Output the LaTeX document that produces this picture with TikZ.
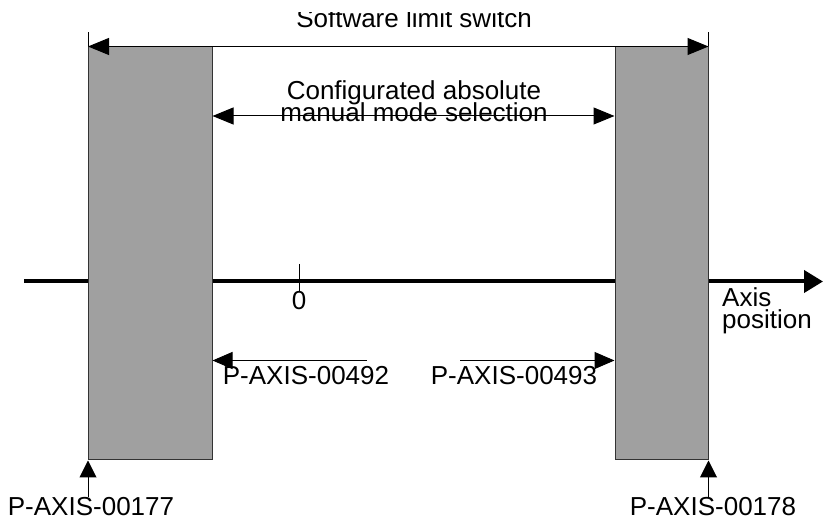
\documentclass[tikz,border=0pt]{standalone}
\usepackage{fontspec}
\setmainfont{Liberation Sans}
\usepackage{tikz}
\usetikzlibrary{arrows.meta, calc}
\definecolor{BarGrey}{HTML}{A0A0A0}
\definecolor{BarEdge}{HTML}{333333}
\newcommand{\labelfont}{\fontsize{26}{22}\selectfont\lineskiplimit=-40pt\relax}

\begin{document}
\begin{tikzpicture}[x=1pt, y=1pt,
  every node/.style={font=\labelfont, inner sep=0pt},
  bar/.style={draw=BarEdge, fill=BarGrey, line width=1pt},
  guide/.style={line width=1pt},
  dimarr/.style={{Triangle[length=21pt, width=17pt]}-{Triangle[length=21pt, width=17pt]}, line width=1pt},
  onearr/.style={-{Triangle[length=#1, width=17pt]}, line width=1pt},
  onearr/.default={19pt},
  axisarr/.style={-{Triangle[length=19pt, width=22pt]}, line width=4pt}
]
  \useasboundingbox (0,0) rectangle (823,520);

  % Axis, drawn first so the bars cover it
  \coordinate (axstart) at (24,238.5);
  \coordinate (axend) at (823,238.5);
  \draw[axisarr] (axstart) -- (axend);
  \node[anchor=south west, align=left] (axlbl) at (722,186) {Axis\\position};

  % Zero mark
  \coordinate (zero) at (299,238.5);
  \draw[guide] ($(zero)+(0,17.5)$) -- ($(zero)+(0,-10)$);
  \node[anchor=base] (zerolbl) at (299,210) {0};

  % Limit bars
  \node[bar, minimum width=123.5, minimum height=413] (lbar) at (150.25,266.5) {};
  \node[bar, minimum width=93, minimum height=413] (rbar) at (661.5,266.5) {};

  % Software limit switch
  \draw[guide] (lbar.north west) -- ++(0,14);
  \draw[guide] (rbar.north east) -- ++(0,14);
  \draw[dimarr] (lbar.north west) -- (rbar.north east);
  \begin{scope}
    \clip (0,0) rectangle (823,507);
    \node[anchor=base] (swlbl) at (414,492) {Software limit switch};
  \end{scope}

  % Manual mode selection
  \coordinate (sel) at (0,404);
  \draw[dimarr] (lbar.east |- sel) -- (rbar.west |- sel);
  \node[anchor=south, align=center] (sellbl) at (414,398) {Configurated absolute\\manual mode selection};

  % Lower limits
  \coordinate (lowl) at (367,159.5);
  \coordinate (lowr) at (460,159.5);
  \draw[onearr=20pt] (lowl) -- (lbar.east |- lowl);
  \draw[onearr=20pt] (lowr) -- (rbar.west |- lowr);
  \node[anchor=base] (p492) at (306,135) {P-AXIS-00492};
  \node[anchor=base] (p493) at (514,135) {P-AXIS-00493};

  % Bar edges
  \node[anchor=base] (p177) at (91,5) {P-AXIS-00177};
  \node[anchor=base] (p178) at (713,5) {P-AXIS-00178};
  \draw[onearr=17pt] (lbar.south west |- p177.north) -- (lbar.south west);
  \draw[onearr=17pt] (rbar.south east |- p178.north) -- (rbar.south east);
\end{tikzpicture}
\end{document}
